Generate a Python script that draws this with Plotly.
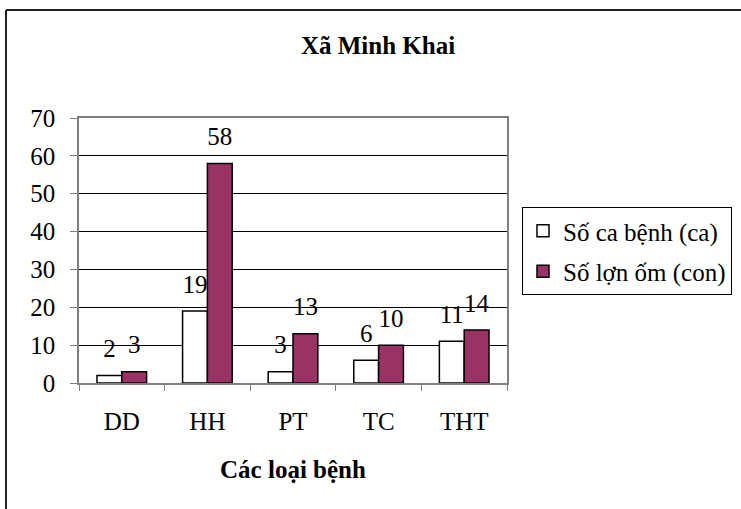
import plotly.graph_objects as go

categories = ["DD", "HH", "PT", "TC", "THT"]
so_ca_benh = [2, 19, 3, 6, 11]
so_lon_om = [3, 58, 13, 10, 14]
y_ticks = [0, 10, 20, 30, 40, 50, 60, 70]

FONT = "Liberation Serif, Times New Roman, serif"
FS = 25
W, H = 741, 509
L, R, T, B = 79, 507, 118, 383

fig = go.Figure()
series = [
    ("Số ca bệnh (ca)", so_ca_benh, "white", "a"),
    ("Số lợn ốm (con)", so_lon_om, "#993366", "b"),
]
for name, vals, color, grp in series:
    fig.add_trace(go.Bar(
        x=categories, y=vals, name=name, legendgroup=grp,
        offsetgroup=grp, alignmentgroup="g",
        marker=dict(color=color, line=dict(color="black", width=1.5)),
        hoverinfo="x+y+name",
    ))
for name, vals, color, grp in series:
    fig.add_trace(go.Scatter(
        x=categories, y=vals, mode="markers+text", text=[str(v) for v in vals],
        textposition="top center", showlegend=False, legendgroup=grp,
        offsetgroup=grp, alignmentgroup="g",
        marker=dict(size=18, opacity=0), cliponaxis=False, hoverinfo="skip",
        textfont=dict(size=FS, color="black", family=FONT),
    ))

pw, ph = R - L, B - T
def px(x):
    return (x - L) / pw
def py(y):
    return (B - y) / ph

fig.update_layout(
    width=W, height=H,
    margin=dict(l=L, r=W - R, t=T, b=H - B, pad=0, autoexpand=False),
    paper_bgcolor="white", plot_bgcolor="white",
    font=dict(family=FONT, size=FS, color="black"),
    barmode="group", bargap=0.42, bargroupgap=0,
    scattermode="group", scattergap=0.42,
    title=dict(text="<b>Xã Minh Khai</b>", x=378 / W, xref="container", xanchor="center",
               y=1 - 45 / H, yref="container", yanchor="middle",
               font=dict(size=25, family=FONT, color="black")),
    showlegend=True,
    legend=dict(x=px(522), y=py(207), xanchor="left", yanchor="top",
                bordercolor="black", borderwidth=1, bgcolor="white",
                font=dict(size=FS, family=FONT, color="black"),
                tracegroupgap=5, itemwidth=30),
    xaxis=dict(
        showgrid=False, showline=True, linecolor="#808080", linewidth=1.5, mirror=True,
        ticks="outside", tickson="boundaries", ticklen=6, tickcolor="#808080",
        ticklabelstandoff=15,
        tickfont=dict(size=FS, family=FONT, color="black"),
        title=dict(text="<b>Các loại bệnh</b>", standoff=27,
                   font=dict(size=FS, family=FONT, color="black")),
    ),
    yaxis=dict(
        range=[0, 70], tickvals=y_ticks,
        showgrid=True, gridcolor="black", gridwidth=1,
        showline=True, linecolor="#808080", linewidth=1.5, mirror=True,
        ticks="outside", ticklen=7, tickcolor="#808080",
        ticklabelstandoff=10,
        tickfont=dict(size=FS, family=FONT, color="black"),
        zeroline=False,
    ),
    shapes=[
        dict(type="line", xref="paper", yref="paper", x0=px(6), x1=px(741), y0=py(10), y1=py(10),
             line=dict(color="#222222", width=2)),
        dict(type="line", xref="paper", yref="paper", x0=px(6), x1=px(6), y0=py(10), y1=py(509),
             line=dict(color="#222222", width=2)),
    ],
)

fig.write_html("out.html", config={"displayModeBar": False},
               post_script="document.body.style.margin='0';")
